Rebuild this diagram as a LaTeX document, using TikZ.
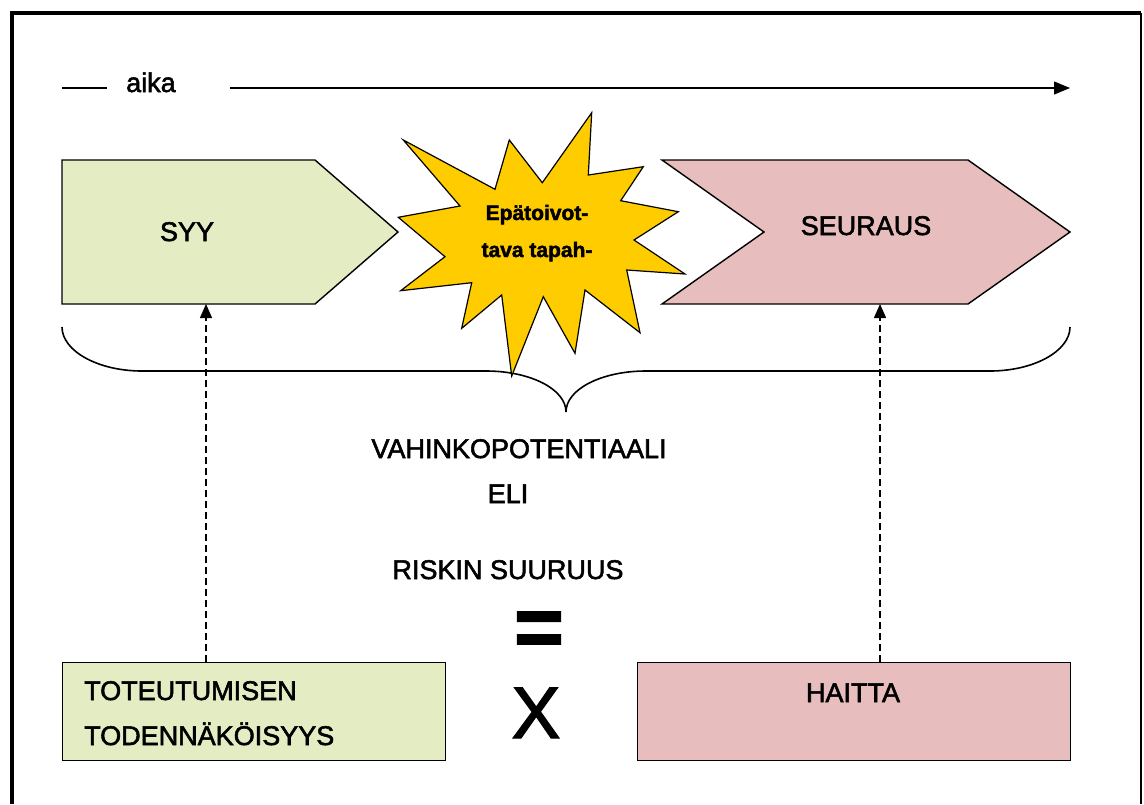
\documentclass[tikz,border=0pt]{standalone}
\usepackage{fontspec}
\setmainfont{Liberation Sans}[FakeBold=2]
\usetikzlibrary{arrows.meta, positioning}
\definecolor{causegreen}{HTML}{E4ECC4}
\definecolor{effectpink}{HTML}{E7BDBD}
\definecolor{eventyellow}{HTML}{FFCC00}

\begin{document}
\begin{tikzpicture}[x=1pt, y=-1pt,
    every node/.style={font=\fontsize{27}{32}\selectfont, inner sep=0pt},
    shapeline/.style={draw=black, line width=1.4pt, line join=miter},
    causeshape/.style={shapeline, fill=causegreen},
    effectshape/.style={shapeline, fill=effectpink},
    eventstar/.style={shapeline, fill=eventyellow, line width=1.2pt},
    probbox/.style={causeshape, rectangle, anchor=north west, minimum width=383pt, minimum height=98pt},
    harmbox/.style={effectshape, rectangle, anchor=north west, minimum width=433pt, minimum height=98pt},
    startext/.style={font=\bfseries\fontsize{21}{25}\selectfont, anchor=base},
    timeline/.style={line width=1.2pt},
    linkarrow/.style={line width=1.4pt, dash pattern=on 7pt off 4pt, -{Triangle[length=14pt,width=12pt]}},
    bracket/.style={line width=1.6pt},
]
\useasboundingbox (0,0) rectangle (1144,804);
% frame
\draw[line width=3.5pt] (12,804) -- (12,13) -- (1141,13);
\draw[line width=2pt] (1141,13) -- (1141,804);
% time axis
\coordinate (tstart) at (62,88); \coordinate (tstop) at (107,88);
\coordinate (tresume) at (230,88); \coordinate (tend) at (1070,88);
\node[anchor=base west] (aika) at (126,92) {aika};
\draw[timeline] (tstart) -- (tstop);
\draw[timeline, -{Triangle[length=16pt,width=13pt]}] (tresume) -- (tend);
% brace under the chain
\draw[bracket] (62,327) .. controls (62,351) and (98,371) .. (142,371) -- (486,371)
    .. controls (530,371) and (566,389) .. (566,412)
    .. controls (566,389) and (602,371) .. (646,371) -- (990,371)
    .. controls (1034,371) and (1070,351) .. (1070,327);
% cause, event, consequence
\draw[causeshape] (62,160) -- (315,160) -- (398,232) -- (315,304) -- (62,304) -- cycle;
\node[anchor=base] (syy) at (187,241) {SYY};
\draw[effectshape] (662,160) -- (968,160) -- (1070,232) -- (968,304) -- (662,304) -- (764,232) -- cycle;
\node[anchor=base] (seuraus) at (866,235) {SEURAUS};
\draw[eventstar] (403.3,140) -- (495,189.3) -- (509.3,140) -- (542.3,182.7) -- (591.7,112.7) -- (588.3,175)
    -- (643.3,166.7) -- (620.7,200.7) -- (678.3,211.7) -- (634,240) -- (685,274) -- (626.7,270)
    -- (640,332.7) -- (585,290) -- (575,353.3) -- (543.3,296.7) -- (511.7,376) -- (501.7,295)
    -- (461.7,328.3) -- (471.7,282.7) -- (400.7,290.7) -- (445,256.7) -- (398.3,217.3) -- (460,206) -- cycle;
\node[startext] (event1) at (537,220) {Epätoivot-};
\node[startext] (event2) at (537,257) {tava tapah-};
% result
\node[anchor=base] (potential) at (519,458) {VAHINKOPOTENTIAALI};
\node[anchor=base] (eli) at (508,503) {ELI};
\node[anchor=base] (riski) at (508,579) {RISKIN SUURUUS};
\node[font=\bfseries\fontsize{85}{90}\selectfont] (equals) at (539,634) {=};
\node[anchor=base, font=\fontsize{73}{80}\selectfont] (times) at (536,738) {X};
% factors
\node[probbox] (prob) at (62,662) {};
\node[anchor=base west] (prob1) at (84,700) {TOTEUTUMISEN};
\node[anchor=base west] (prob2) at (84,745) {TODENNÄKÖISYYS};
\node[harmbox] (harm) at (637,662) {};
\node[anchor=base] (haitta) at (853,702) {HAITTA};
\coordinate (syyfoot) at (206,304);
\coordinate (seurausfoot) at (880,304);
\draw[linkarrow] (prob.north -| syyfoot) -- (syyfoot);
\draw[linkarrow] (harm.north -| seurausfoot) -- (seurausfoot);
\end{tikzpicture}
\end{document}
